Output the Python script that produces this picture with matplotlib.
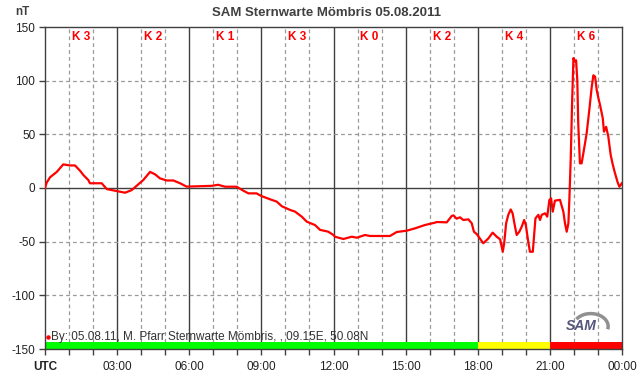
#!/usr/bin/env python3
import matplotlib
matplotlib.use('Agg')
import matplotlib.pyplot as plt
from matplotlib.patches import Arc

plt.rcParams['font.family'] = ['Liberation Sans', 'DejaVu Sans']
plt.rcParams['axes.unicode_minus'] = False

# magnetometer trace, hours UTC vs nT
hours = [0.0, 0.07, 0.21, 0.49, 0.76, 1.04, 1.25, 1.46, 1.6, 1.8, 1.87, 2.36, 2.57, 2.91,
         3.33, 3.6, 3.81, 4.09, 4.37, 4.58, 4.78, 5.06, 5.34, 5.62, 5.89, 6.93, 7.2, 7.49,
         7.97, 8.25, 8.46, 8.8, 9.0, 9.36, 9.64, 9.85, 10.2, 10.4, 10.68, 10.89, 11.23,
         11.44, 11.78, 12.0, 12.06, 12.41, 12.76, 12.97, 13.31, 13.52, 14.35, 14.63, 15.04,
         15.39, 15.8, 16.22, 16.29, 16.71, 16.92, 16.99, 17.12, 17.26, 17.4, 17.61, 17.75,
         17.84, 17.96, 18.23, 18.44, 18.62, 18.79, 18.93, 19.04, 19.1, 19.18, 19.27, 19.37,
         19.45, 19.55, 19.62, 19.73, 19.83, 19.93, 20.0, 20.1, 20.17, 20.29, 20.34, 20.4,
         20.52, 20.59, 20.66, 20.8, 20.89, 20.98, 21.05, 21.12, 21.21, 21.42, 21.56, 21.63,
         21.7, 21.77, 21.81, 21.87, 21.92, 21.98, 22.03, 22.09, 22.14, 22.18, 22.25, 22.32,
         22.39, 22.53, 22.64, 22.74, 22.81, 22.88, 22.95, 23.02, 23.09, 23.2, 23.25, 23.34,
         23.43, 23.53, 23.62, 23.71, 23.81, 23.89, 23.95, 23.99]
values = [0, 5, 10, 15, 22, 21, 21, 16, 12, 7.5, 4.4, 4.4, -1, -2.5,
          -4.4, -2, 2, 7.5, 15, 12.7, 9, 7, 7, 4.4, 1.3, 2, 3, 1.2,
          1.2, -2.5, -5, -5, -7.5, -10.5, -12.7, -17, -20.5, -22, -26.7, -31.4, -34.5,
          -39, -40.7, -43.8, -45.4, -47.5, -45.4, -46.3, -43.8, -44.7, -44.7, -41, -39.8,
          -37.6, -34.5, -32.3, -31.7, -32, -26, -25.5, -28.6, -27.3, -29.8, -29.2, -32.9,
          -40.7, -43, -51.5, -47, -41.6, -45.4, -47.8, -59.4, -51.5, -33, -25, -20,
          -23.6, -36, -43.8, -40.7, -36, -29.8, -34.5, -50, -59.4, -59.4, -45.4, -28.3,
          -25, -29.8, -25, -23.6, -26.7, -11.2, -9.6, -22, -11.8, -11, -22, -33,
          -40.7, -33, -11, 29, 76, 121, 118, 119, 100.6, 60, 23, 23,
          32, 51, 72.7, 94, 105, 103.7, 91, 83.6, 77, 65, 52.5, 57,
          48, 30.7, 21.4, 13.7, 5.9, 1.2, 2.8, 4.4]

k_index = ['K 3', 'K 2', 'K 1', 'K 3', 'K 0', 'K 2', 'K 4', 'K 6']
k_colors = ['#00ff00', '#00ff00', '#00ff00', '#00ff00', '#00ff00', '#00ff00', '#ffff00', '#ff0000']
x_labels = ['UTC', '03:00', '06:00', '09:00', '12:00', '15:00', '18:00', '21:00', '00:00']
y_ticks = [-150, -100, -50, 0, 50, 100, 150]

fig = plt.figure(figsize=(6.42, 3.76), dpi=100)
ax = fig.add_axes([45 / 642, 1 - 349 / 376, 577 / 642, 322 / 376])

dark = '#404040'
# grid
for h in range(1, 24):
    if h % 3 == 0:
        ax.axvline(h, color=dark, lw=1.0, zorder=1)
    else:
        ax.axvline(h, color='#999999', lw=0.9, ls=(0, (3, 2.5)), zorder=1)
for v in [-100, -50, 50, 100]:
    ax.axhline(v, color='#999999', lw=0.9, ls=(0, (3, 2.5)), zorder=1)
ax.axhline(0, color=dark, lw=1.0, zorder=1)

# K index bar and labels
for i, (k, c) in enumerate(zip(k_index, k_colors)):
    ax.fill_between([3 * i, 3 * i + 3], -150, -143.5, color=c, lw=0, zorder=2)
    ax.text(3 * i + 1.5, 140.5, k, color='red', fontsize=8.5, fontweight='bold',
            ha='center', va='center', zorder=3)

ax.plot(hours, values, color='#ff0000', lw=1.6, zorder=4)

ax.set_xlim(0, 24)
ax.set_ylim(-150, 150)
ax.set_xticks(range(0, 25, 3))
ax.set_xticks(range(0, 25), minor=True)
ax.set_xticklabels(x_labels)
ax.get_xticklabels()[0].set_fontweight('bold')
ax.set_yticks(y_ticks)
ax.tick_params(axis='both', which='both', direction='out', length=4, width=1,
               color=dark, labelsize=8.5, labelcolor='#222222', pad=3)
ax.tick_params(axis='x', which='major', pad=5)
for s in ax.spines.values():
    s.set_color(dark)
    s.set_linewidth(1.0)

ax.plot([0.12], [-138.5], marker='o', ms=2.2, color='red', zorder=5)
ax.text(0.25, -138.5, 'By: 05.08.11, M. Pfarr Sternwarte Mömbris, , 09.15E, 50.08N',
        fontsize=8.5, color='#333333', va='center', ha='left', zorder=5)

# logo
ax.add_patch(Arc((22.7, -129), 1.45, 24, theta1=-75, theta2=95, color='#909090',
                 lw=2.5, zorder=5))
ax.text(22.3, -129, 'SAM', fontsize=10, fontstyle='italic', fontweight='bold',
        color='#55557a', ha='center', va='center', zorder=6)

fig.text(327 / 642, 1 - 13 / 376, 'SAM Sternwarte Mömbris 05.08.2011', fontsize=9.5,
         fontweight='bold', color='#404040', ha='center', va='center')
fig.text(22 / 642, 1 - 12 / 376, 'nT', fontsize=8.5, fontweight='bold', color='#404040',
         ha='center', va='center')

fig.savefig('out.png', dpi=100, facecolor='white')
